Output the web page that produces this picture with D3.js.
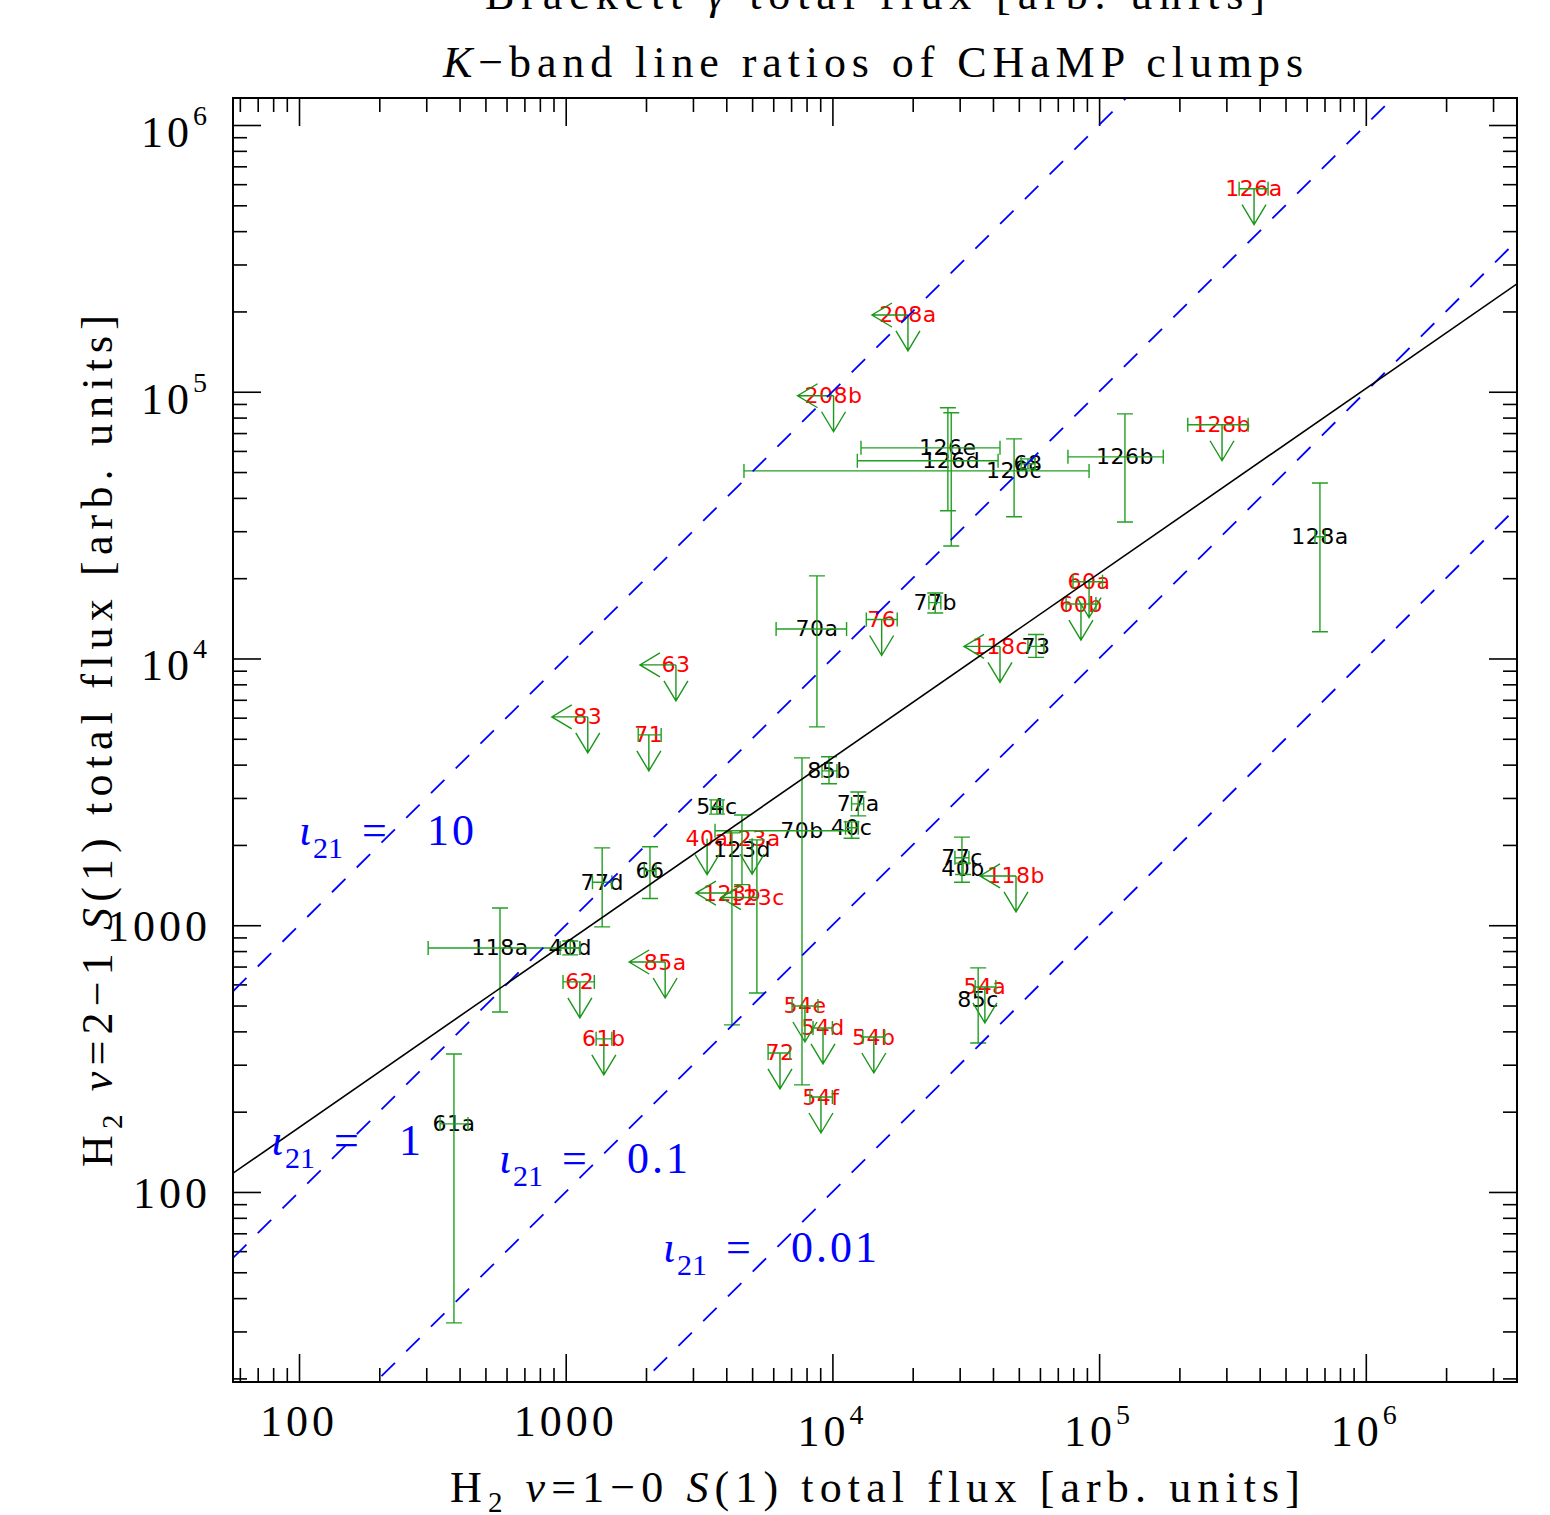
<!DOCTYPE html>
<html>
<head>
<meta charset="utf-8">
<style>
  body { margin: 0; background: #fff; }
  svg { display: block; }
  .lbl { font-family: 'DejaVu Sans', sans-serif; font-size: 22px; letter-spacing: 0.5px; }
  .serif { font-family: 'Liberation Serif', 'DejaVu Serif', serif; font-size: 44px; }
</style>
</head>
<body>
<svg width="1550" height="1515"></svg>
<script src="https://d3js.org/d3.v7.min.js"></script>
<script>

// clump names, H2 1-0 S(1) flux (x) and H2 2-1 S(1) flux (y), arb. units
var clumps = ["126a","208a","208b","126e","126d","126c","68","126b","128b","128a",
              "60a","60b","70a","76","77b","118c","73","63","83","71",
              "85b","70b","40c","77a","54c","40a","123a","123d","123b","123c",
              "77d","66","118b","77c","40b","40d","118a","62","85a","61b",
              "61a","72","54e","54d","54f","54b","54a","85c"];

var fluxS10 = [3.81e5, 1.92e4, 1.01e4, 2.71e4, 2.79e4, 4.80e4, 5.41e4, 1.25e5, 2.89e5, 6.73e5,
               9.17e4, 8.55e4, 8.75e3, 1.53e4, 2.43e4, 4.25e4, 5.80e4, 2.59e3, 1.21e3, 2.05e3,
               9.71e3, 7.69e3, 1.18e4, 1.25e4, 3.69e3, 3.39e3, 5.00e3, 4.58e3, 4.20e3, 5.21e3,
               1.37e3, 2.07e3, 4.88e4, 3.06e4, 3.09e4, 1.04e3, 567, 1.13e3, 2.36e3, 1.39e3,
               381, 6.36e3, 7.89e3, 9.22e3, 9.06e3, 1.43e4, 3.73e4, 3.52e4];

var fluxS21 = [5.77e5, 1.94e5, 9.66e4, 6.16e4, 5.51e4, 5.05e4, 5.37e4, 5.70e4, 7.52e4, 2.86e4,
               1.94e4, 1.60e4, 1.29e4, 1.40e4, 1.62e4, 1.11e4, 1.11e4, 9.46e3, 6.04e3, 5.17e3,
               3.79e3, 2.26e3, 2.32e3, 2.85e3, 2.78e3, 2.11e3, 2.12e3, 1.92e3, 1.32e3, 1.27e3,
               1.45e3, 1.60e3, 1.53e3, 1.79e3, 1.63e3, 822, 822, 613, 728, 375,
               180, 332, 498, 412, 227, 381, 587, 525];

// error ranges [low, high], null when not drawn
var errS10 = [[3.35e5,4.30e5], null, null, [1.28e4,4.25e4], [1.24e4,4.18e4], [4.66e3,9.17e4], [5.10e4,5.75e4], [7.64e4,1.74e5], [2.15e5,3.62e5], [6.45e5,7.03e5],
              [7.98e4,1.03e5], [7.52e4,9.73e4], [6.15e3,1.13e4], [1.34e4,1.75e4], [2.30e4,2.55e4], null, [5.41e4,6.21e4], null, null, [1.87e3,2.28e3],
              [9.14e3,1.04e4], [3.63e3,1.18e4], [1.12e4,1.25e4], [1.18e4,1.31e4], [3.51e3,3.89e3], null, null, null, null, null,
              [1.26e3,1.49e3], [1.97e3,2.18e3], null, [2.88e4,3.25e4], null, [953,1.13e3], [305,1.13e3], [977,1.28e3], null, [1.30e3,1.49e3],
              [338,430], [5.74e3,6.93e3], [7.06e3,8.83e3], [8.46e3,1.00e4], [8.24e3,1.00e4], [1.30e4,1.57e4], [3.43e4,4.10e4], null];

var errS21 = [null, null, null, [3.58e4,8.71e4], [2.64e4,8.34e4], [3.40e4,6.66e4], [5.14e4,5.60e4], [3.25e4,8.26e4], null, [1.26e4,4.55e4],
              null, null, [5.54e3,2.04e4], null, [1.48e4,1.76e4], null, [1.01e4,1.23e4], null, null, null,
              [3.39e3,4.28e3], [252,4.24e3], [2.12e3,2.44e3], [2.57e3,3.16e3], [2.61e3,2.95e3], null, null, [1.42e3,2.59e3], [423,2.22e3], [557,2.09e3],
              [986,1.95e3], [1.26e3,1.97e3], null, [1.45e3,2.14e3], [1.55e3,1.71e3], [774,873], [473,1.16e3], null, null, null,
              [32.3,329], null, null, null, null, null, null, [362,692]];

// upper limits (1 = arrow)
var limS10 = [0,1,1,0,0,0,0,0,0,0, 0,0,0,0,0,1,0,1,1,0, 0,0,0,0,0,0,0,0,1,1, 0,0,1,0,0,0,0,0,1,0, 0,0,0,0,0,0,0,0];
var limS21 = [1,1,1,0,0,0,0,0,1,0, 1,1,0,1,0,1,0,1,1,1, 0,0,0,0,0,1,1,0,0,0, 0,0,1,0,0,0,0,1,1,1, 0,1,1,1,1,1,1,0];

// ratio lines iota_21 and fitted relation
var iotaValues = [10, 1, 0.1, 0.01];
var iotaText = ["10", "1", "0.1", "0.01"];
var iotaAnchorX = [100, 78.5, 562, 2317];
var iotaAnchorY = [2000, 138, 118, 54.7];
var fitCoef = 7.19, fitSlope = 0.6925;

var tickValues = [100, 1000, 1e4, 1e5, 1e6];
var tickBase = ["100", "1000", "10", "10", "10"];
var tickExp = ["", "", "4", "5", "6"];

var svg = d3.select("svg"),
    margin = {top: 98, right: 33, bottom: 133, left: 233},
    width = +svg.attr("width") - margin.left - margin.right,
    height = +svg.attr("height") - margin.top - margin.bottom,
    g = svg.append("g").attr("transform", "translate(" + margin.left + "," + margin.top + ")");

var x = d3.scaleLog().domain([56.56, 3.689e6]).range([0, width]);
var y = d3.scaleLog().domain([19.39, 1.2625e6]).range([height, 0]);

var data = clumps.map(function (c, i) {
  return {name: c, x: fluxS10[i], y: fluxS21[i], ex: errS10[i], ey: errS21[i],
          lx: limS10[i] === 1, ly: limS21[i] === 1};
});

g.append("clipPath").attr("id", "plotclip")
  .append("rect").attr("width", width).attr("height", height);

// minor ticks
var minor = [];
for (var e = 1; e <= 6; e++) {
  for (var m = 2; m <= 9; m++) minor.push(m * Math.pow(10, e));
}
var minX = minor.filter(function (v) { return v >= x.domain()[0] && v <= x.domain()[1]; });
var minY = minor.filter(function (v) { return v >= y.domain()[0] && v <= y.domain()[1]; });

function ax(axis, scale, vals, size, tr) {
  g.append("g")
    .attr("transform", tr)
    .call(axis(scale).tickValues(vals).tickSize(-size).tickSizeOuter(0).tickFormat(""))
    .call(function (s) { s.select(".domain").remove(); s.selectAll("line").attr("stroke", "#000").attr("stroke-width", 1.6); });
}
ax(d3.axisBottom, x, tickValues, 28, "translate(0," + height + ")");
ax(d3.axisBottom, x, minX, 14, "translate(0," + height + ")");
ax(d3.axisTop, x, tickValues, 28, null);
ax(d3.axisTop, x, minX, 14, null);
ax(d3.axisLeft, y, tickValues, 28, null);
ax(d3.axisLeft, y, minY, 14, null);
ax(d3.axisRight, y, tickValues, 28, "translate(" + width + ",0)");
ax(d3.axisRight, y, minY, 14, "translate(" + width + ",0)");

// tick labels
tickValues.forEach(function (v, i) {
  var t = g.append("text").attr("class", "serif")
    .attr("x", x(v)).attr("y", height + (tickExp[i] ? 64 : 54))
    .attr("text-anchor", "middle").style("letter-spacing", "4px")
    .text(tickBase[i]);
  if (tickExp[i]) t.append("tspan").attr("dy", -22).style("font-size", "28px").text(tickExp[i]);

  var u = g.append("text").attr("class", "serif")
    .attr("x", -22).attr("y", y(v) + (tickExp[i] ? 22 : 16))
    .attr("text-anchor", "end").style("letter-spacing", "4px")
    .text(tickBase[i]);
  if (tickExp[i]) u.append("tspan").attr("dy", -22).style("font-size", "28px").text(tickExp[i]);
});

// titles
var topText = g.append("text").attr("class", "serif")
  .attr("x", 642).attr("y", -89).attr("text-anchor", "middle")
  .attr("textLength", 780).attr("lengthAdjust", "spacing");
topText.append("tspan").text("Brackett ");
topText.append("tspan").style("font-style", "italic").text("γ");
topText.append("tspan").text(" total flux [arb. units]");

var title = g.append("text").attr("class", "serif")
  .attr("x", 640).attr("y", -21).attr("text-anchor", "middle")
  .attr("textLength", 860).attr("lengthAdjust", "spacing");
title.append("tspan").style("font-style", "italic").text("K");
title.append("tspan").text("−band line ratios of CHaMP clumps");

function axisTitle(sel, lev) {
  sel.append("tspan").text("H");
  sel.append("tspan").attr("dy", 10).style("font-size", "29px").text("2");
  sel.append("tspan").attr("dy", -10).text(" ");
  sel.append("tspan").style("font-style", "italic").text("v");
  sel.append("tspan").text("=" + lev + " ");
  sel.append("tspan").style("font-style", "italic").text("S");
  sel.append("tspan").text("(1) total flux [arb. units]");
}
var xt = g.append("text").attr("class", "serif")
  .attr("x", 642).attr("y", height + 120).attr("text-anchor", "middle")
  .attr("textLength", 850).attr("lengthAdjust", "spacing");
axisTitle(xt, "1−0");

var yt = g.append("text").attr("class", "serif")
  .attr("transform", "translate(-121," + 643 + ") rotate(-90)")
  .attr("text-anchor", "middle")
  .attr("textLength", 852).attr("lengthAdjust", "spacing");
axisTitle(yt, "2−1");

// labels
g.selectAll(".lbl")
  .data(data)
  .enter().append("text")
  .attr("class", "lbl")
  .attr("x", function (d) { return x(d.x); })
  .attr("y", function (d) { return y(d.y); })
  .attr("text-anchor", "middle")
  .attr("dominant-baseline", "central")
  .attr("fill", function (d) { return (d.lx || d.ly) ? "#ff0000" : "#000"; })
  .text(function (d) { return d.name; });

// error bars and limit arrows
var eb = g.append("g").attr("fill", "none").attr("stroke", "#22a022").attr("stroke-width", 1.4);
data.forEach(function (d) {
  var cx = x(d.x), cy = y(d.y);
  if (d.ex) {
    var x0 = x(d.ex[0]), x1 = x(d.ex[1]);
    eb.append("path").attr("d", "M" + x0 + "," + cy + "H" + x1 +
      "M" + x0 + "," + (cy - 7) + "V" + (cy + 7) + "M" + x1 + "," + (cy - 7) + "V" + (cy + 7));
  }
  if (d.ey) {
    var y0 = y(d.ey[0]), y1 = y(d.ey[1]);
    eb.append("path").attr("d", "M" + cx + "," + y0 + "V" + y1 +
      "M" + (cx - 8) + "," + y0 + "H" + (cx + 8) + "M" + (cx - 8) + "," + y1 + "H" + (cx + 8));
  }
  if (d.ly) {
    eb.append("path").attr("stroke", "#1a961a").attr("d", "M" + cx + "," + cy + "V" + (cy + 36) +
      "M" + (cx - 12) + "," + (cy + 16) + "L" + cx + "," + (cy + 36) + "L" + (cx + 12) + "," + (cy + 16));
  }
  if (d.lx) {
    eb.append("path").attr("stroke", "#1a961a").attr("d", "M" + cx + "," + cy + "H" + (cx - 36) +
      "M" + (cx - 16) + "," + (cy - 12) + "L" + (cx - 36) + "," + cy + "L" + (cx - 16) + "," + (cy + 12));
  }
});

// ratio lines
var lines = g.append("g").attr("clip-path", "url(#plotclip)");
var xd = x.domain();
iotaValues.forEach(function (k) {
  lines.append("line")
    .attr("x1", x(xd[0])).attr("y1", y(k * xd[0]))
    .attr("x2", x(xd[1])).attr("y2", y(k * xd[1]))
    .attr("stroke", "#0000ff").attr("stroke-width", 1.8)
    .attr("stroke-dasharray", "19,16");
});
lines.append("line")
  .attr("x1", x(xd[0])).attr("y1", y(fitCoef * Math.pow(xd[0], fitSlope)))
  .attr("x2", x(xd[1])).attr("y2", y(fitCoef * Math.pow(xd[1], fitSlope)))
  .attr("stroke", "#000").attr("stroke-width", 1.6);

// iota labels
iotaValues.forEach(function (k, i) {
  var px = x(iotaAnchorX[i]), py = y(iotaAnchorY[i]);
  var lg = g.append("g").attr("fill", "#0000ff");
  lg.append("text").attr("class", "serif").attr("x", px).attr("y", py).style("font-style", "italic").text("ι");
  lg.append("text").attr("class", "serif").attr("x", px + 14).attr("y", py + 13).style("font-size", "30px").text("21");
  lg.append("text").attr("class", "serif").attr("x", px + 63).attr("y", py).text("=");
  lg.append("text").attr("class", "serif").attr("x", px + 128).attr("y", py).style("letter-spacing", "3px").text(iotaText[i]);
});

// frame
g.append("rect").attr("width", width).attr("height", height)
  .attr("fill", "none").attr("stroke", "#000").attr("stroke-width", 2);

</script>
</body>
</html>
